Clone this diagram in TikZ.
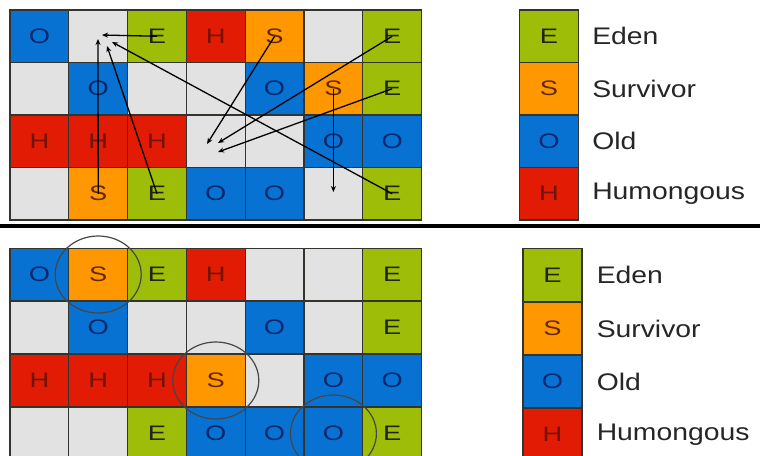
\documentclass[tikz,border=0pt]{standalone}
\usepackage{fontspec}
\usepackage{xcolor}
\usepackage{tikz}
\usetikzlibrary{positioning,shapes.geometric,arrows.meta}
\newfontfamily\cellfont[FakeStretch=1.3]{Liberation Sans}
\newfontfamily\legendfont[FakeStretch=1.18]{Liberation Sans}
\definecolor{edengreen}{RGB}{158, 189, 8}
\definecolor{survorange}{RGB}{255, 152, 0}
\definecolor{oldblue}{RGB}{8, 114, 210}
\definecolor{humred}{RGB}{226, 28, 4}
\definecolor{freegray}{RGB}{226, 226, 226}
\definecolor{gridline}{RGB}{50, 52, 45}
\definecolor{ringgray}{RGB}{70, 70, 70}

\begin{document}
\begin{tikzpicture}[x=1pt, y=-1pt]
\tikzset{
  cell/.style={rectangle, draw=gridline, line width=1.3pt, inner sep=0pt,
    minimum width=58.8pt, minimum height=52.7pt, font=\cellfont\fontsize{21}{24}\selectfont},
  cellE/.style={cell, fill=edengreen, text={rgb,255:red,30;green,38;blue,8}},
  cellS/.style={cell, fill=survorange, text={rgb,255:red,100;green,40;blue,0}},
  cellO/.style={cell, fill=oldblue, text={rgb,255:red,8;green,40;blue,110}},
  cellH/.style={cell, fill=humred, text={rgb,255:red,115;green,18;blue,5}},
  cellF/.style={cell, fill=freegray},
  keylbl/.style={inner sep=0pt, font=\legendfont\fontsize{24}{28}\selectfont, text=black!85},
  arr/.style={-{Stealth[length=6pt, width=5pt]}, line width=1.3pt, black},
  ring/.style={ellipse, draw=ringgray, line width=1.2pt, minimum width=86pt, minimum height=77pt, inner sep=0pt}
}
\clip (0,0) rectangle (760,455);
\fill[white] (0,0) rectangle (760,455);
% before
\node[cellO] (t11) at (39.4,  36.25) {O};
\node[cellF] (t12) at (98.2,  36.25) {};
\node[cellE] (t13) at (157.0, 36.25) {E};
\node[cellH] (t14) at (215.8, 36.25) {H};
\node[cellS] (t15) at (274.6, 36.25) {S};
\node[cellF] (t16) at (333.4, 36.25) {};
\node[cellE] (t17) at (392.2, 36.25) {E};
\node[cellF] (t21) at (39.4,  88.75) {};
\node[cellO] (t22) at (98.2,  88.75) {O};
\node[cellF] (t23) at (157.0, 88.75) {};
\node[cellF] (t24) at (215.8, 88.75) {};
\node[cellO] (t25) at (274.6, 88.75) {O};
\node[cellS] (t26) at (333.4, 88.75) {S};
\node[cellE] (t27) at (392.2, 88.75) {E};
\node[cellH] (t31) at (39.4,  141.25) {H};
\node[cellH] (t32) at (98.2,  141.25) {H};
\node[cellH] (t33) at (157.0, 141.25) {H};
\node[cellF] (t34) at (215.8, 141.25) {};
\node[cellF] (t35) at (274.6, 141.25) {};
\node[cellO] (t36) at (333.4, 141.25) {O};
\node[cellO] (t37) at (392.2, 141.25) {O};
\node[cellF] (t41) at (39.4,  193.75) {};
\node[cellS] (t42) at (98.2,  193.75) {S};
\node[cellE] (t43) at (157.0, 193.75) {E};
\node[cellO] (t44) at (215.8, 193.75) {O};
\node[cellO] (t45) at (274.6, 193.75) {O};
\node[cellF] (t46) at (333.4, 193.75) {};
\node[cellE] (t47) at (392.2, 193.75) {E};
\coordinate (hub1) at (102, 35);
\coordinate (hub2) at (98, 39);
\coordinate (hub3) at (107, 46);
\coordinate (hub4) at (112, 42);
\coordinate (mid1) at (207, 144);
\coordinate (mid2) at (218, 143);
\coordinate (mid3) at (218, 152);
\coordinate (drop1) at (333.4, 192);
\draw[arr] (t13.center) -- (hub1);
\draw[arr] (t42.center) -- (hub2);
\draw[arr] (t43.center) -- (hub3);
\draw[arr] (t47.center) -- (hub4);
\draw[arr] (t15.center) -- (mid1);
\draw[arr] (t17.center) -- (mid2);
\draw[arr] (t27.center) -- (mid3);
\draw[arr] (t26.center) -- (drop1);
% legend
\node[cellE] (keyE) at (549, 36.25) {E};
\node[cellS] (keyS) at (549, 88.75) {S};
\node[cellO] (keyO) at (549, 141.25) {O};
\node[cellH] (keyH) at (549, 193.75) {H};
\node[keylbl, right=13pt of keyE] (lblE) {Eden};
\node[keylbl, right=13pt of keyS] (lblS) {Survivor};
\node[keylbl, right=13pt of keyO] (lblO) {Old};
\node[keylbl, right=13pt of keyH] (lblH) {Humongous};
\draw[line width=4.2pt, black] (0,226) -- (760,226);
% after
\node[cellO] (b11) at (39.4,  274.5) {O};
\node[cellS] (b12) at (98.2,  274.5) {S};
\node[cellE] (b13) at (157.0, 274.5) {E};
\node[cellH] (b14) at (215.8, 274.5) {H};
\node[cellF] (b15) at (274.6, 274.5) {};
\node[cellF] (b16) at (333.4, 274.5) {};
\node[cellE] (b17) at (392.2, 274.5) {E};
\node[cellF] (b21) at (39.4,  327.5) {};
\node[cellO] (b22) at (98.2,  327.5) {O};
\node[cellF] (b23) at (157.0, 327.5) {};
\node[cellF] (b24) at (215.8, 327.5) {};
\node[cellO] (b25) at (274.6, 327.5) {O};
\node[cellF] (b26) at (333.4, 327.5) {};
\node[cellE] (b27) at (392.2, 327.5) {E};
\node[cellH] (b31) at (39.4,  380.5) {H};
\node[cellH] (b32) at (98.2,  380.5) {H};
\node[cellH] (b33) at (157.0, 380.5) {H};
\node[cellS] (b34) at (215.8, 380.5) {S};
\node[cellF] (b35) at (274.6, 380.5) {};
\node[cellO] (b36) at (333.4, 380.5) {O};
\node[cellO] (b37) at (392.2, 380.5) {O};
\node[cellF] (b41) at (39.4,  433.5) {};
\node[cellF] (b42) at (98.2,  433.5) {};
\node[cellE] (b43) at (157.0, 433.5) {E};
\node[cellO] (b44) at (215.8, 433.5) {O};
\node[cellO] (b45) at (274.6, 433.5) {O};
\node[cellO] (b46) at (333.4, 433.5) {O};
\node[cellE] (b47) at (392.2, 433.5) {E};
\node[ring] (ring1) at (b12) {};
\node[ring] (ring2) at (b34) {};
\node[ring] (ring3) at (b46) {};
% legend
\node[cellE] (keyE2) at (552.5, 275) {E};
\node[cellS] (keyS2) at (552.5, 328.5) {S};
\node[cellO] (keyO2) at (552.5, 381.5) {O};
\node[cellH] (keyH2) at (552.5, 434.5) {H};
\node[keylbl, right=14pt of keyE2] (lblE2) {Eden};
\node[keylbl, right=14pt of keyS2] (lblS2) {Survivor};
\node[keylbl, right=14pt of keyO2] (lblO2) {Old};
\node[keylbl, right=14pt of keyH2] (lblH2) {Humongous};
\end{tikzpicture}
\end{document}
